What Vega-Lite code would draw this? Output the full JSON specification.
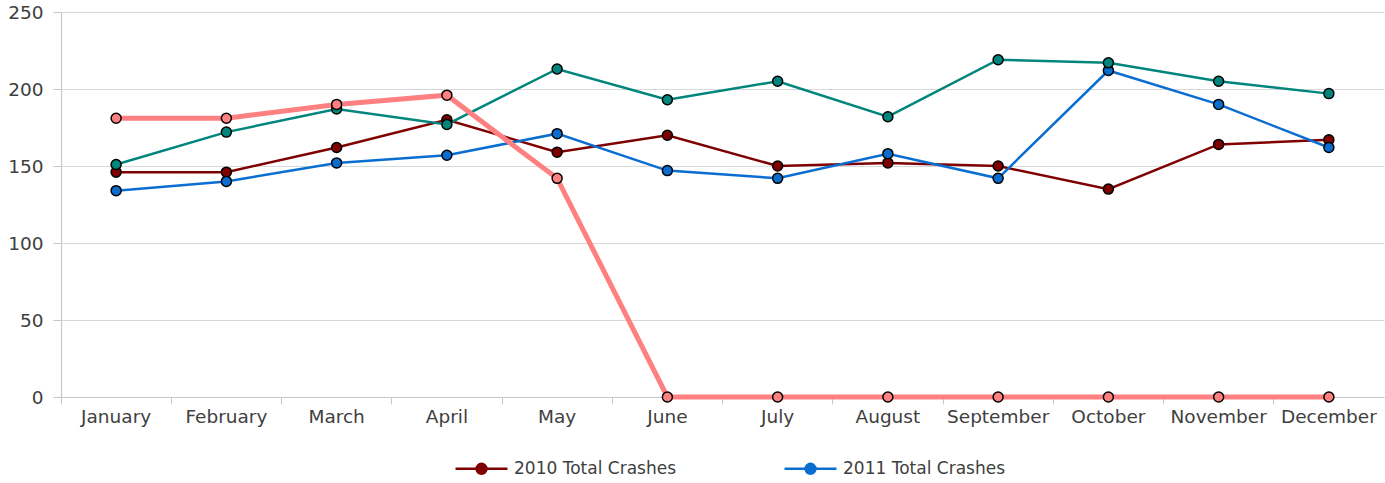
{
  "$schema": "https://vega.github.io/schema/vega-lite/v6.json",
  "autosize": {"type": "none"},
  "padding": {"left": 61, "top": 12, "right": 1, "bottom": 86},
  "width": 1323,
  "height": 385,
  "background": "white",
  "config": {
    "view": {"stroke": null},
    "font": "DejaVu Sans",
    "axis": {"labelFont": "DejaVu Sans", "labelFontSize": 18.5, "labelColor": "#404040", "gridColor": "#d9d9d9", "domainColor": "#c8c8c8", "tickColor": "#c8c8c8", "gridWidth": 1.2}
  },
  "data": {
    "values": [
      {"month": "January", "series": "2010 Total Crashes", "value": 146},
      {"month": "February", "series": "2010 Total Crashes", "value": 146},
      {"month": "March", "series": "2010 Total Crashes", "value": 162},
      {"month": "April", "series": "2010 Total Crashes", "value": 180},
      {"month": "May", "series": "2010 Total Crashes", "value": 159},
      {"month": "June", "series": "2010 Total Crashes", "value": 170},
      {"month": "July", "series": "2010 Total Crashes", "value": 150},
      {"month": "August", "series": "2010 Total Crashes", "value": 152},
      {"month": "September", "series": "2010 Total Crashes", "value": 150},
      {"month": "October", "series": "2010 Total Crashes", "value": 135},
      {"month": "November", "series": "2010 Total Crashes", "value": 164},
      {"month": "December", "series": "2010 Total Crashes", "value": 167},
      {"month": "January", "series": "2011 Total Crashes", "value": 134},
      {"month": "February", "series": "2011 Total Crashes", "value": 140},
      {"month": "March", "series": "2011 Total Crashes", "value": 152},
      {"month": "April", "series": "2011 Total Crashes", "value": 157},
      {"month": "May", "series": "2011 Total Crashes", "value": 171},
      {"month": "June", "series": "2011 Total Crashes", "value": 147},
      {"month": "July", "series": "2011 Total Crashes", "value": 142},
      {"month": "August", "series": "2011 Total Crashes", "value": 158},
      {"month": "September", "series": "2011 Total Crashes", "value": 142},
      {"month": "October", "series": "2011 Total Crashes", "value": 212},
      {"month": "November", "series": "2011 Total Crashes", "value": 190},
      {"month": "December", "series": "2011 Total Crashes", "value": 162},
      {"month": "January", "series": "2012 Total Crashes", "value": 151},
      {"month": "February", "series": "2012 Total Crashes", "value": 172},
      {"month": "March", "series": "2012 Total Crashes", "value": 187},
      {"month": "April", "series": "2012 Total Crashes", "value": 177},
      {"month": "May", "series": "2012 Total Crashes", "value": 213},
      {"month": "June", "series": "2012 Total Crashes", "value": 193},
      {"month": "July", "series": "2012 Total Crashes", "value": 205},
      {"month": "August", "series": "2012 Total Crashes", "value": 182},
      {"month": "September", "series": "2012 Total Crashes", "value": 219},
      {"month": "October", "series": "2012 Total Crashes", "value": 217},
      {"month": "November", "series": "2012 Total Crashes", "value": 205},
      {"month": "December", "series": "2012 Total Crashes", "value": 197},
      {"month": "January", "series": "2013 Total Crashes", "value": 181},
      {"month": "February", "series": "2013 Total Crashes", "value": 181},
      {"month": "March", "series": "2013 Total Crashes", "value": 190},
      {"month": "April", "series": "2013 Total Crashes", "value": 196},
      {"month": "May", "series": "2013 Total Crashes", "value": 142},
      {"month": "June", "series": "2013 Total Crashes", "value": 0},
      {"month": "July", "series": "2013 Total Crashes", "value": 0},
      {"month": "August", "series": "2013 Total Crashes", "value": 0},
      {"month": "September", "series": "2013 Total Crashes", "value": 0},
      {"month": "October", "series": "2013 Total Crashes", "value": 0},
      {"month": "November", "series": "2013 Total Crashes", "value": 0},
      {"month": "December", "series": "2013 Total Crashes", "value": 0}
    ]
  },
  "encoding": {
    "x": {
      "field": "month", "type": "ordinal", "sort": null, "bandPosition": 0.5,
      "scale": {"type": "band", "paddingInner": 0, "paddingOuter": 0},
      "axis": {"title": null, "labelAngle": 0, "bandPosition": 0, "tickSize": 7, "labelPadding": 3, "grid": false, "domainWidth": 1.2, "labelBaseline": "top"}
    },
    "y": {
      "field": "value", "type": "quantitative",
      "scale": {"domain": [0, 250], "nice": false},
      "axis": {"title": null, "values": [0, 50, 100, 150, 200, 250], "tickSize": 8, "labelPadding": 10, "domainWidth": 1.2}
    },
    "color": {
      "field": "series", "type": "nominal",
      "scale": {"domain": ["2010 Total Crashes", "2011 Total Crashes", "2012 Total Crashes", "2013 Total Crashes"], "range": ["#7f0000", "#0a6ed1", "#00857d", "#ff8080"]},
      "legend": {
        "values": ["2010 Total Crashes", "2011 Total Crashes"],
        "title": null, "orient": "none", "direction": "horizontal", "legendX": 393, "legendY": 429,
        "labelFontSize": 17, "labelFont": "DejaVu Sans", "labelColor": "#404040", "labelLimit": 400,
        "symbolType": "M-1,0H-0.19M0.19,0H1M-0.19,0A0.19,0.19,0,1,1,0.19,0A0.19,0.19,0,1,1,-0.19,0",
        "symbolSize": 2700, "symbolStrokeWidth": 2.5, "columnPadding": 103, "labelOffset": 5
      }
    }
  },
  "layer": [
    {
      "transform": [{"filter": "datum.series !== '2013 Total Crashes'"}],
      "mark": {"type": "line", "strokeWidth": 2.5}
    },
    {
      "transform": [{"filter": "datum.series === '2013 Total Crashes'"}],
      "mark": {"type": "line", "strokeWidth": 5}
    },
    {
      "mark": {"type": "point", "filled": true, "stroke": "black", "strokeWidth": 1.5, "size": 100, "opacity": 1},
      "encoding": {
        "fill": {"field": "series", "type": "nominal", "scale": {"domain": ["2010 Total Crashes", "2011 Total Crashes", "2012 Total Crashes", "2013 Total Crashes"], "range": ["#7f0000", "#0a6ed1", "#00857d", "#ff8080"]}, "legend": null}
      }
    }
  ]
}
